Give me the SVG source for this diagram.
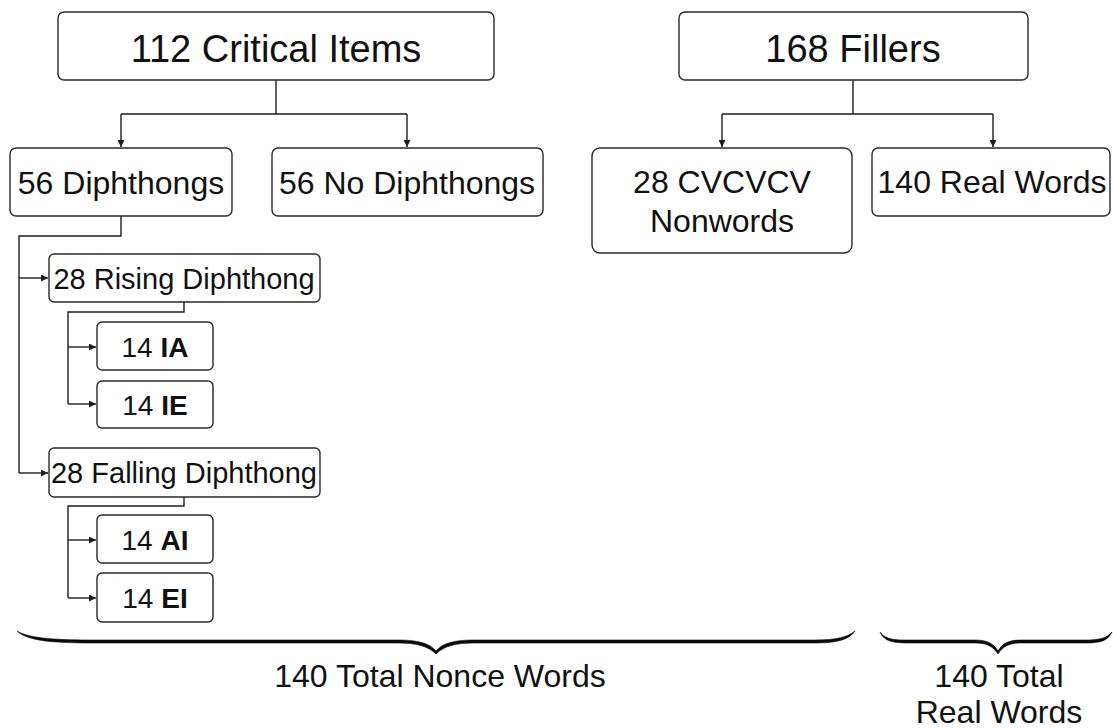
<svg xmlns="http://www.w3.org/2000/svg" width="1113" height="728" viewBox="0 0 1113 728">
  <style>
    .box { fill: #ffffff; stroke: #2a2a2a; stroke-width: 1.4; }
    .shadow { fill: none; stroke: #b8b8b8; stroke-width: 1.2; }
    .wire { fill: none; stroke: #1e1e1e; stroke-width: 1.4; }
    .t { font-family: "Liberation Sans", Arial, sans-serif; fill: #111111; text-anchor: middle; }
    .big { font-size: 38px; }
    .mid { font-size: 32px; }
    .sm { font-size: 29px; }
    .xs { font-size: 28px; }
    .b { font-weight: bold; }
    .brace { fill: #0a0a0a; stroke: #0a0a0a; stroke-width: 0.6; }
  </style>
  <defs>
    <marker id="arr" viewBox="0 0 10 10" refX="10" refY="5" markerWidth="7" markerHeight="7" markerUnits="userSpaceOnUse" orient="auto">
      <path d="M0,0 L10,5 L0,10 Z" fill="#1e1e1e"/>
    </marker>
  </defs>
  <rect width="1113" height="728" fill="#ffffff"/>

  <!-- tree connectors -->
  <g id="connectors">
    <path class="wire" d="M276,80 V114 M121,114 H407"/>
    <path class="wire" d="M121,114 V147" marker-end="url(#arr)"/>
    <path class="wire" d="M407,114 V147" marker-end="url(#arr)"/>
    <path class="wire" d="M853,80 V114 M722,114 H993"/>
    <path class="wire" d="M722,114 V147" marker-end="url(#arr)"/>
    <path class="wire" d="M993,114 V147" marker-end="url(#arr)"/>
    <path class="wire" d="M121,216 V236 H19 V473"/>
    <path class="wire" d="M19,278 H48" marker-end="url(#arr)"/>
    <path class="wire" d="M19,473 H48" marker-end="url(#arr)"/>
    <path class="wire" d="M184,302 V312 H68 V404"/>
    <path class="wire" d="M68,347 H96" marker-end="url(#arr)"/>
    <path class="wire" d="M68,404 H96" marker-end="url(#arr)"/>
    <path class="wire" d="M184,497 V506 H68 V598"/>
    <path class="wire" d="M68,540 H96" marker-end="url(#arr)"/>
    <path class="wire" d="M68,598 H96" marker-end="url(#arr)"/>
  </g>

  <g id="critical">
    <rect class="box" x="58" y="12" width="436" height="68" rx="6"/>
    <text class="t big" x="276" y="62">112 Critical Items</text>
  </g>
  <g id="fillers">
    <rect class="box" x="679" y="12" width="349" height="68" rx="6"/>
    <text class="t big" x="853" y="62">168 Fillers</text>
  </g>
  <g id="diphthongs">
    <rect class="box" x="10" y="148" width="222" height="68" rx="6"/>
    <text class="t mid" x="121" y="194">56 Diphthongs</text>
  </g>
  <g id="no-diphthongs">
    <rect class="box" x="272" y="148" width="271" height="68" rx="6"/>
    <text class="t mid" x="407" y="194">56 No Diphthongs</text>
  </g>
  <g id="cvcvcv">
    <rect class="box" x="592" y="148" width="260" height="105" rx="8"/>
    <text class="t mid" x="722" y="193">28 CVCVCV</text>
    <text class="t mid" x="722" y="232">Nonwords</text>
  </g>
  <g id="real-words">
    <rect class="box" x="872" y="148" width="238" height="68" rx="6"/>
    <text class="t mid" x="992" y="193">140 Real Words</text>
  </g>
  <g id="rising">
    <rect class="box" x="49" y="254" width="271" height="48" rx="5"/>
    <text class="t sm" x="184" y="289">28 Rising Diphthong</text>
  </g>
  <g id="ia">
    <rect class="box" x="97" y="322" width="116" height="48" rx="5"/>
    <text class="t xs" x="155" y="357">14 <tspan class="b">IA</tspan></text>
  </g>
  <g id="ie">
    <rect class="box" x="97" y="381" width="116" height="47" rx="5"/>
    <text class="t xs" x="155" y="415">14 <tspan class="b">IE</tspan></text>
  </g>
  <g id="falling">
    <rect class="box" x="49" y="448" width="271" height="49" rx="5"/>
    <text class="t sm" x="184" y="483">28 Falling Diphthong</text>
  </g>
  <g id="ai">
    <rect class="box" x="97" y="515" width="116" height="48" rx="5"/>
    <text class="t xs" x="155" y="550">14 <tspan class="b">AI</tspan></text>
  </g>
  <g id="ei">
    <rect class="box" x="97" y="573" width="116" height="49" rx="5"/>
    <text class="t xs" x="155" y="608">14 <tspan class="b">EI</tspan></text>
  </g>

  <!-- under-braces with their totals -->
  <g id="nonce-total">
    <path class="brace" d="M17,631 C30,639 60,640 95,640 L398,640 C420,640 430,644 436,651 C442,644 452,640 474,640 L815,640 C836,640 848,637 855,631 C849,640 836,643 815,643 L474,643 C456,643 444,646 436,654 C428,646 416,643 398,643 L95,643 C60,643 28,642 17,631 Z"/>
    <text class="t mid" x="440" y="687">140 Total Nonce Words</text>
  </g>
  <g id="real-total">
    <path class="brace" d="M880,632 C886,640 895,640 910,640 L975,640 C988,640 994,644 998,651 C1002,644 1008,640 1021,640 L1086,640 C1100,640 1107,638 1112,632 C1108,641 1100,643 1086,643 L1021,643 C1010,643 1003,646 998,654 C993,646 986,643 975,643 L910,643 C895,643 884,642 880,632 Z"/>
    <text class="t mid" x="999" y="687">140 Total</text>
    <text class="t mid" x="999" y="723">Real Words</text>
  </g>
</svg>
